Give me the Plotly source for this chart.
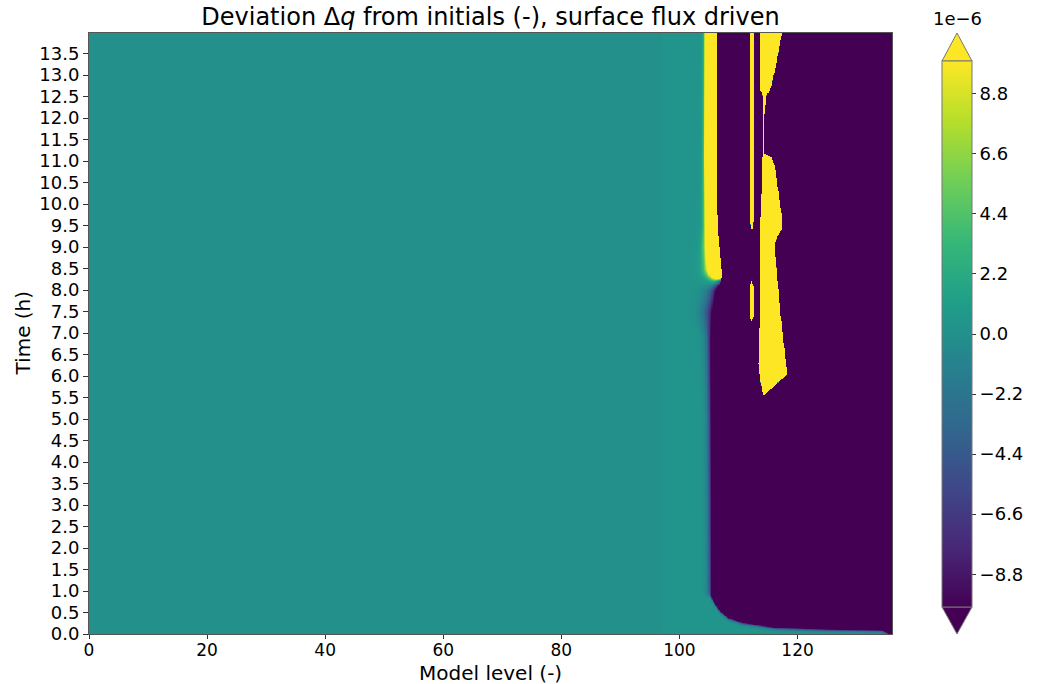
import numpy as np
import plotly.graph_objects as go

# ---------------- data (values in units of 1e-6) ----------------
level = np.concatenate([np.arange(0, 95, 1.0), np.round(np.arange(95, 136.001, 0.1), 2)])
time_h = np.round(np.concatenate([np.arange(0, 1.0, 0.01), np.arange(1.0, 13.981, 0.025)]), 3)

SAT = 30.0  # saturated deviation (beyond colour range)

# weak positive background near the moist-layer top
base_x = [0, 96.5, 97.2, 106]
base_v = [0, 0, 0.4, 0.4]

# left edge of the strongly negative region vs time
edge_t = [0.0, 0.8, 5.0, 6.9, 7.5, 8.0, 8.3, 8.5, 9.0, 10.0, 14.0]
edge_x = [105.6, 105.6, 105.5, 105.5, 106.0, 106.6, 107.1, 107.1, 106.7, 106.3, 106.2]
edge_w = [0.35, 0.35, 0.35, 0.45, 0.9, 0.8, 0.4, 0.3, 0.25, 0.2, 0.2]
# onset time of the negative region vs level
bottom_x = [105.0, 106.8, 108.2, 110.5, 116.1, 125.0, 134.2, 135.5, 136.0]
bottom_t = [0.9, 0.56, 0.40, 0.29, 0.17, 0.13, 0.11, 0.03, 0.0]

# positive band 1 (left of the edge, after ~8.3 h)
band1_t = [8.0, 8.3, 8.5, 9.0, 9.5, 11.0, 14.0]
band1_L = [106.2, 105.9, 105.4, 105.0, 104.7, 104.5, 104.5]
band1_w = [0.6, 0.6, 0.5, 0.4, 0.25, 0.18, 0.15]

# thin positive strips near level 112
band2a_t = [9.45, 9.6, 14.0]
band2a_L = [112.2, 111.9, 111.8]
band2a_R = [112.3, 112.5, 112.6]
band2b_t = [7.3, 7.4, 8.1, 8.2]
band2b_L = [112.1, 111.9, 111.9, 112.1]
band2b_R = [112.2, 112.5, 112.5, 112.2]

# positive column near levels 113-118
band3_t = [5.56, 5.65, 5.95, 6.06, 6.3, 7.54, 8.7, 8.9, 9.09, 9.47, 9.7, 10.8, 11.1, 11.2, 12.0, 12.53, 12.65, 13.3, 14.0]
band3_L = [114.2, 114.0, 113.6, 113.5, 113.3, 113.6, 113.6, 113.6, 113.6, 113.6, 113.7, 113.9, 114.0, 114.05, 114.05, 114.0, 113.7, 113.6, 113.6]
band3_R = [114.3, 114.9, 117.4, 118.3, 118.0, 117.0, 116.3, 116.1, 116.0, 117.4, 117.3, 116.2, 115.6, 114.35, 114.35, 114.6, 115.3, 116.4, 117.3]

colorbar_ticks = [-8.8, -6.6, -4.4, -2.2, 0.0, 2.2, 4.4, 6.6, 8.8]
x_ticks = [0, 20, 40, 60, 80, 100, 120]
y_ticks = [round(0.5 * i, 1) for i in range(28)]


# ---------------- build field ----------------
def sig(u):
    return 1.0 / (1.0 + np.exp(-np.clip(u, -50, 50)))


X, T = np.meshgrid(level, time_h)
xe = np.interp(T, edge_t, edge_x)
we = np.interp(T, edge_t, edge_w)
tb = np.interp(X, bottom_x, bottom_t)
neg = -SAT * sig((X - xe) / we) * sig((T - tb) / 0.025)
L1 = np.interp(T, band1_t, band1_L)
w1 = np.interp(T, band1_t, band1_w)
pos1 = 2 * SAT * sig((X - L1) / w1) * sig((T - 8.3) / 0.07) * (X <= xe)
Z = np.interp(X, base_x, base_v) + neg + pos1


def band(tk, Lk, Rk):
    inside_t = (T >= tk[0]) & (T <= tk[-1])
    return inside_t & (X >= np.interp(T, tk, Lk)) & (X <= np.interp(T, tk, Rk))


for tk, Lk, Rk in [(band2a_t, band2a_L, band2a_R), (band2b_t, band2b_L, band2b_R), (band3_t, band3_L, band3_R)]:
    Z = np.where(band(tk, Lk, Rk), SAT, Z)

Z = np.round(np.clip(Z, -12, 12), 2)

# ---------------- figure ----------------
FONT = "DejaVu Sans"
W, H = 1037, 684
L_, R_, T_, B_ = 89, 145, 33, 50
pw, ph = W - L_ - R_, H - T_ - B_


def px(xp):
    return (xp - L_) / pw


def py(yp):
    return (H - B_ - yp) / ph


fig = go.Figure()
fig.add_trace(go.Heatmap(
    x=level, y=time_h, z=Z, colorscale="Viridis", zmin=-10, zmax=10, zsmooth="best",
    colorbar=dict(
        thickness=30, len=(607 - 61 + 20) / ph, lenmode="fraction", x=px(942 - 10), xanchor="left",
        xpad=10, ypad=10, y=py(334), yanchor="middle", tickvals=colorbar_ticks,
        ticktext=[f"{v:.1f}".replace("-", "\u2212") for v in colorbar_ticks],
        ticks="outside", ticklen=4, tickcolor="#333", outlinecolor="#777", outlinewidth=1,
        tickfont=dict(family=FONT, size=18, color="black"),
    ),
))

cx0, cx1, cxm = px(942), px(972), px(957)
fig.add_shape(type="path", xref="paper", yref="paper",
              path=f"M {cx0} {py(61)} L {cx1} {py(61)} L {cxm} {py(33)} Z",
              fillcolor="#fde725", line=dict(color="#777", width=1))
fig.add_shape(type="path", xref="paper", yref="paper",
              path=f"M {cx0} {py(607)} L {cx1} {py(607)} L {cxm} {py(634)} Z",
              fillcolor="#440154", line=dict(color="#777", width=1))
fig.add_annotation(x=cxm, y=py(31), xref="paper", yref="paper", text="1e\u22126",
                   xanchor="center", yanchor="bottom", showarrow=False,
                   font=dict(family=FONT, size=18, color="black"))
fig.add_annotation(x=0.5, y=py(673), xref="paper", yref="paper", text="Model level (-)",
                   xanchor="center", yanchor="middle", showarrow=False, borderpad=0,
                   font=dict(family=FONT, size=20, color="black"))
fig.add_annotation(x=px(22), y=0.5, xref="paper", yref="paper", text="Time (h)", textangle=-90,
                   xanchor="center", yanchor="middle", showarrow=False,
                   font=dict(family=FONT, size=20, color="black"))

fig.update_layout(
    width=W, height=H, margin=dict(l=L_, r=R_, t=T_, b=B_, autoexpand=False),
    paper_bgcolor="white", plot_bgcolor="white",
    title=dict(text="Deviation \u0394<i>q</i> from initials (-), surface flux driven",
               x=(L_ + pw / 2) / W, xanchor="center", y=1 - 17 / H, yanchor="middle",
               font=dict(family=FONT, size=24, color="black")),
    xaxis=dict(range=[0, 136], tickvals=x_ticks, ticks="outside", ticklen=4, tickcolor="#333",
               ticklabelstandoff=-3,
               showline=True, linecolor="#555", linewidth=1, mirror=True, showgrid=False, zeroline=False,
               tickfont=dict(family=FONT, size=17, color="black")),
    yaxis=dict(range=[0, 13.98], tickvals=y_ticks, ticktext=[f"{v:.1f}" for v in y_ticks],
               ticks="outside", ticklen=5, tickcolor="#333",
               showline=True, linecolor="#555", linewidth=1, mirror=True, showgrid=False, zeroline=False,
               tickfont=dict(family=FONT, size=18, color="black")),
)

fig.write_html("out.html")
